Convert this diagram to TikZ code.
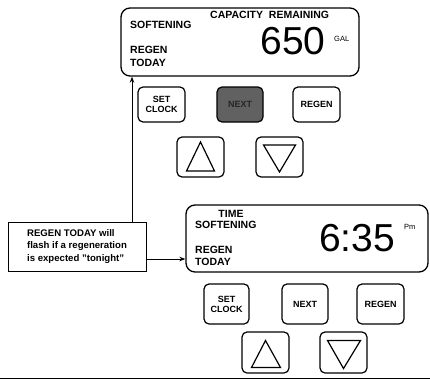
\documentclass[tikz,border=0pt]{standalone}
\usepackage{fontspec}
\setmainfont{Liberation Sans}
\usetikzlibrary{arrows.meta,calc}
\tikzset{
  lcd/.style={draw, line width=1.3pt, rounded corners=9pt, inner sep=0pt},
  btn/.style={draw, line width=1.2pt, rounded corners=5pt, inner sep=0pt, align=center,
    font=\fontsize{9}{10}\selectfont\bfseries},
  lbl/.style={inner sep=0pt, anchor=west, font=\fontsize{10.5}{11}\selectfont\bfseries},
  digits/.style={inner sep=0pt, font=\fontsize{39}{40}\selectfont},
  unit/.style={inner sep=0pt, font=\fontsize{7.5}{8}\selectfont},
  tri/.style={line width=1.2pt, line join=miter},
  callout/.style={draw, line width=1pt, inner xsep=6pt, inner sep=0pt, align=left,
    font=\fontsize{9.6}{12.5}\selectfont\bfseries},
  pointer/.style={line width=1pt, -{Stealth[length=6pt,width=4.5pt]}}
}
\begin{document}
\begin{tikzpicture}[x=1pt,y=-1pt]
\useasboundingbox (0,0) rectangle (430,380);
% top display
\node[lcd, minimum width=238pt, minimum height=68pt] (d1) at (240,42) {};
\node[lbl, anchor=west] (t1cap) at (210,15) {CAPACITY\ \ REMAINING};
\node[lbl] (t1soft) at (130,25) {SOFTENING};
\node[lbl] (t1regen) at (130,50) {REGEN};
\node[lbl] (t1today) at (130,63) {TODAY};
\node[digits] (t1num) at (293,41) {650};
\node[unit, anchor=west] (t1gal) at (334,39) {GAL};
% top buttons
\node[btn, minimum width=47pt, minimum height=35pt] (b1set) at (161.5,104.5) {SET\\CLOCK};
\node[btn, minimum width=46pt, minimum height=35pt, fill=black!62, text=black!85] (b1next) at (240,104.5) {NEXT};
\node[btn, minimum width=47pt, minimum height=35pt] (b1regen) at (316.5,104.5) {REGEN};
\node[btn, minimum width=47pt, minimum height=40pt] (b1up) at (200.5,157) {};
\node[btn, minimum width=47pt, minimum height=40pt] (b1down) at (279.5,157) {};
\draw[tri] ($(b1up)+(-14,14)$) -- ($(b1up)+(14,14)$) -- ($(b1up)+(0,-15)$) -- cycle;
\draw[tri] ($(b1down)+(-16,-12)$) -- ($(b1down)+(16,-12)$) -- ($(b1down)+(0,15)$) -- cycle;
% callout
\node[callout, minimum width=138pt, minimum height=49pt] (note) at (77,246.5)
  {REGEN TODAY will\\flash if a regeneration\\is expected "tonight"};
% bottom display
\node[lcd, minimum width=242pt, minimum height=67pt] (d2) at (307,238.5) {};
\node[lbl, anchor=center] (t2time) at (231,214) {TIME};
\node[lbl] (t2soft) at (195,225) {SOFTENING};
\node[lbl] (t2regen) at (195,250) {REGEN};
\node[lbl] (t2today) at (195,262) {TODAY};
\node[digits] (t2num) at (357,238) {6:35};
\node[unit, anchor=west] (t2pm) at (404,227) {Pm};
% bottom buttons
\node[btn, minimum width=45pt, minimum height=40pt] (b2set) at (226.5,304) {SET\\CLOCK};
\node[btn, minimum width=46pt, minimum height=40pt] (b2next) at (305,304) {NEXT};
\node[btn, minimum width=47pt, minimum height=40pt] (b2regen) at (380.5,304) {REGEN};
\node[btn, minimum width=47pt, minimum height=41pt] (b2up) at (265.5,352.5) {};
\node[btn, minimum width=47pt, minimum height=41pt] (b2down) at (343.5,352.5) {};
\draw[tri] ($(b2up)+(-14,15)$) -- ($(b2up)+(15,15)$) -- ($(b2up)+(0,-12)$) -- cycle;
\draw[tri] ($(b2down)+(-16,-12)$) -- ($(b2down)+(17,-12)$) -- ($(b2down)+(0,16)$) -- cycle;
% pointers
\draw[pointer] ([xshift=55pt]note.north) -- ([xshift=55pt]note.north |- d1.south);
\draw[pointer] ([yshift=-12.5pt]note.east) -- ([yshift=-12.5pt]note.east -| d2.west);
% bottom rule
\coordinate (ruleL) at (0,378.5);
\coordinate (ruleR) at (430,378.5);
\draw[line width=1.8pt] (ruleL) -- (ruleR);
\end{tikzpicture}
\end{document}
